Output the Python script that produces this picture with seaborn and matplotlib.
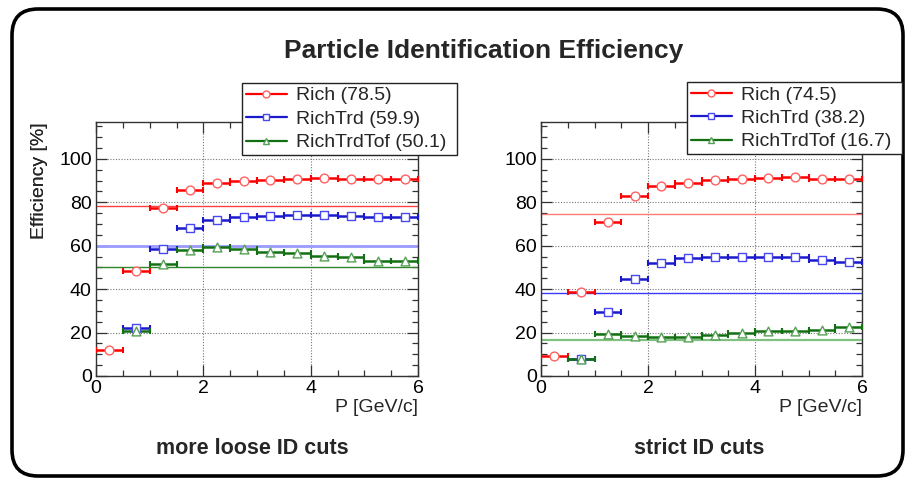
import numpy as np
import pandas as pd
import matplotlib
matplotlib.use("Agg")
import matplotlib.pyplot as plt
import seaborn as sns
from matplotlib.patches import FancyBboxPatch
from matplotlib.transforms import IdentityTransform
from matplotlib.ticker import MultipleLocator

# ---------------- data ----------------
bin_centers = [0.25, 0.75, 1.25, 1.75, 2.25, 2.75, 3.25, 3.75, 4.25, 4.75, 5.25, 5.75]
bin_halfwidth = 0.25

loose_rich = [12.0, 48.5, 77.2, 85.7, 88.8, 89.8, 90.3, 90.8, 91.3, 90.9, 90.6, 90.6]
loose_richtrd = [np.nan, 22.2, 58.5, 68.3, 72.0, 73.2, 73.7, 74.2, 74.0, 73.8, 73.3, 73.3]
loose_richtrdtof = [np.nan, 20.5, 51.8, 58.2, 59.5, 58.6, 57.1, 56.6, 55.4, 54.9, 53.2, 52.9]
loose_avg = [78.5, 59.9, 50.1]

strict_rich = [9.0, 38.9, 71.0, 83.0, 87.5, 89.0, 90.2, 90.8, 91.1, 91.6, 90.8, 90.8]
strict_richtrd = [np.nan, 8.0, 29.7, 44.7, 52.0, 54.3, 55.0, 55.0, 54.7, 55.0, 53.5, 52.6]
strict_richtrdtof = [np.nan, 8.0, 19.3, 18.5, 17.9, 17.9, 18.8, 19.7, 20.5, 20.8, 21.4, 22.5]
strict_avg = [74.5, 38.2, 16.7]

series_names = ["Rich", "RichTrd", "RichTrdTof"]
panel_titles = ["more loose ID cuts", "strict ID cuts"]

# ---------------- style ----------------
sns.set_theme(style="ticks")
plt.rcParams["font.family"] = ["Liberation Sans", "DejaVu Sans"]

bar_colors = ["#ff0000", "#1a1acc", "#127012"]
mk_colors = ["#ff6060", "#4848ee", "#55a055"]
markers = ["o", "s", "^"]
avg_styles = [
    [("#ff4040", 1.0), ("#9a9aff", 2.0), ("#2f862f", 1.0)],
    [("#ff7a7a", 1.0), ("#3a3aff", 1.0), ("#80c080", 1.6)],
]

FS = 14.0
W, H = 906, 478
fig = plt.figure(figsize=(W / 100, H / 100), dpi=100)
fig.patch.set_facecolor("white")

# rounded outer frame
frame = FancyBboxPatch((12, 2), 891, 467, boxstyle="round,pad=0,rounding_size=26",
                       transform=IdentityTransform(), facecolor="none",
                       edgecolor="black", linewidth=2.6, zorder=0)
fig.add_artist(frame)

axes_px = [(96, 122, 418, 376), (541, 122, 862, 376)]
legend_px = [(242, 83, 457), (687, 82, 902)]
bottom_label_x = [252, 699]
panels = [
    ([loose_rich, loose_richtrd, loose_richtrdtof], loose_avg),
    ([strict_rich, strict_richtrd, strict_richtrdtof], strict_avg),
]

for pi, ((x0, y0, x1, y1), (vals, avgs)) in enumerate(zip(axes_px, panels)):
    ax = fig.add_axes([x0 / W, 1 - y1 / H, (x1 - x0) / W, (y1 - y0) / H])
    ax.set_xlim(0, 6)
    ax.set_ylim(0, 117)
    handles = []
    for si in range(3):
        df = pd.DataFrame({"p": bin_centers, "eff": vals[si]}).dropna()
        ax.errorbar(df["p"], df["eff"], xerr=bin_halfwidth, fmt="none",
                    ecolor=bar_colors[si], elinewidth=1.8, capsize=2.5,
                    capthick=1.5, zorder=3)
        sns.scatterplot(data=df, x="p", y="eff", ax=ax, marker=markers[si],
                        s=40, facecolor="white", edgecolor=mk_colors[si],
                        linewidth=1.0, zorder=4, legend=False)
        c, lw = avg_styles[pi][si]
        ax.axhline(avgs[si], color=c, lw=lw, zorder=2)
        h, = ax.plot([], [], color=bar_colors[si], lw=1.6, marker=markers[si],
                     ms=5, mfc="white", mec=mk_colors[si], mew=1.0)
        handles.append(h)

    ax.set_xlabel("")
    ax.set_ylabel("")
    ax.xaxis.set_major_locator(MultipleLocator(2))
    ax.xaxis.set_minor_locator(MultipleLocator(0.5))
    ax.yaxis.set_major_locator(MultipleLocator(20))
    ax.yaxis.set_minor_locator(MultipleLocator(5))
    ax.tick_params(which="both", direction="in", top=True, right=True,
                   colors="#333333", labelcolor="black", labelsize=FS, width=0.9)
    ax.tick_params(which="major", length=8, pad=3)
    ax.tick_params(which="minor", length=4)
    ax.grid(True, which="major", linestyle=(0, (1, 1.5)), color="#777777", lw=0.8)
    for sp in ax.spines.values():
        sp.set_color("#333333")
        sp.set_linewidth(1.0)

    ax.text(1.0, -(408 - 376) / (y1 - y0), "P [GeV/c]", transform=ax.transAxes,
            ha="right", va="center", fontsize=FS)
    ax.text(-(x0 - 40) / (x1 - x0), 1.0, "Efficiency [%]", transform=ax.transAxes,
            rotation=90, ha="center", va="top", fontsize=FS)

    lx0, ly0, lx1 = legend_px[pi]
    labels = [f"{n} ({a})" for n, a in zip(series_names, avgs)]
    leg = fig.legend(handles, labels, loc="upper left",
                     bbox_to_anchor=(lx0 / W, 1 - ly0 / H, (lx1 - lx0) / W, 0.0),
                     mode="expand", fontsize=FS, frameon=True, fancybox=False,
                     edgecolor="#222222", framealpha=1, borderpad=0.2,
                     labelspacing=0.3, handlelength=2.1, handletextpad=0.5,
                     borderaxespad=0)
    leg.get_frame().set_linewidth(1.0)
    leg.set_zorder(10)

    fig.text(bottom_label_x[pi] / W, 1 - 449 / H, panel_titles[pi],
             ha="center", va="center", fontsize=15.5, fontweight="bold")

fig.text(484 / W, 1 - 51 / H, "Particle Identification Efficiency",
         ha="center", va="center", fontsize=19, fontweight="bold")

fig.savefig("out.png", dpi=100)
